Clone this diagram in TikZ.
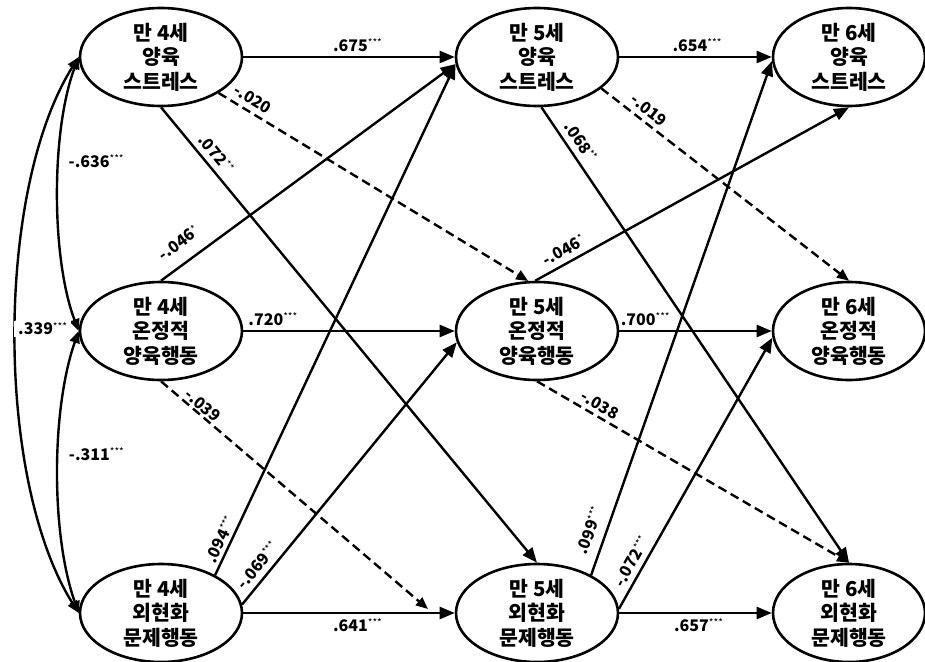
\documentclass[tikz,border=0pt]{standalone}
\usepackage{fontspec}
\setmainfont{Noto Sans CJK KR}
\usetikzlibrary{arrows.meta,shapes.geometric}
\tikzset{
  el/.style={ellipse, draw, line width=2.6pt, minimum width=162pt, minimum height=98pt, inner sep=0pt},
  elc/.style={el, minimum width=152pt},
  txt/.style={align=center, font=\fontsize{20.5}{24.5}\selectfont\bfseries},
  conn/.style={line width=2.4pt, -{Triangle[length=15pt,width=12pt]}},
  dconn/.style={line width=2.4pt, dash pattern=on 9pt off 5pt, -{Triangle[length=12pt,width=10pt]}},
  cov/.style={line width=2.4pt, {Triangle[length=12pt,width=10pt]}-{Triangle[length=12pt,width=10pt]}},
  lab/.style={font=\fontsize{16}{18}\selectfont, inner sep=1.5pt},
}
\newcommand{\cf}[2]{\textbf{#1}\raisebox{4.5pt}{\fontsize{10}{10}\selectfont #2}}
\begin{document}
\begin{tikzpicture}[x=1pt,y=-1pt]
\useasboundingbox (0,0) rectangle (925,661);
% ellipses
\node[el]  (A1) at (161,57)  {};
\node[el]  (A2) at (161,331) {};
\node[el]  (A3) at (161,613) {};
\node[el]  (B1) at (537,57)  {};
\node[el]  (B2) at (537,331) {};
\node[el]  (B3) at (537,613) {};
\node[elc] (C1) at (849,57)  {};
\node[elc] (C2) at (849,331) {};
\node[elc] (C3) at (849,613) {};
\node[txt] (tA1) at (A1) {만 4세\\양육\\스트레스};
\node[txt] (tA2) at (A2) {만 4세\\온정적\\양육행동};
\node[txt] (tA3) at (A3) {만 4세\\외현화\\문제행동};
\node[txt] (tB1) at (B1) {만 5세\\양육\\스트레스};
\node[txt] (tB2) at (B2) {만 5세\\온정적\\양육행동};
\node[txt] (tB3) at (B3) {만 5세\\외현화\\문제행동};
\node[txt] (tC1) at (C1) {만 6세\\양육\\스트레스};
\node[txt] (tC2) at (C2) {만 6세\\온정적\\양육행동};
\node[txt] (tC3) at (C3) {만 6세\\외현화\\문제행동};
\coordinate (d1) at (428,609);
% horizontal paths
\draw[conn] (A1.east) -- node[lab, above=3pt, pos=0.54] {\cf{.675}{***}} (B1.west);
\draw[conn] (B1.east) -- node[lab, above=3pt, pos=0.51] {\cf{.654}{***}} (C1.west);
\draw[conn] (A2.east) -- node[lab, above=3pt, pos=0.14] {\cf{.720}{***}} (B2.west);
\draw[conn] (B2.east) -- node[lab, above=3pt, pos=0.17] {\cf{.700}{***}} (C2.west);
\draw[conn] (A3.east) -- node[lab, below=3pt, pos=0.54] {\cf{.641}{***}} (B3.west);
\draw[conn] (B3.east) -- node[lab, below=3pt, pos=0.52] {\cf{.657}{***}} (C3.west);
% cross paths 4 -> 5
\draw[conn]  (A1.south) -- node[lab, sloped, above=4pt, pos=0.12] {\cf{.072}{**}} (B3.north);
\draw[dconn] (A1.-32) -- node[lab, sloped, above=3.5pt, pos=0.09] {\textbf{-.020}} (B2.100);
\draw[conn]  (A2.north) -- node[lab, sloped, above=11pt, pos=0.1] {\cf{-.046}{*}} (B1.185);
\draw[dconn] (A2.south) -- node[lab, sloped, above=0pt, pos=0.135] {\textbf{-.039}} (d1);
\draw[conn]  (A3.35) -- node[lab, sloped, above=1.5pt, pos=0.061] {\cf{.094}{***}} (B1.185);
\draw[conn]  (A3.6) -- node[lab, sloped, above=4pt, pos=0.119] {\cf{-.069}{***}} (B2.188);
% cross paths 5 -> 6
\draw[conn]  (B1.-85) -- node[lab, sloped, above=4.5pt, pos=0.092] {\cf{.068}{**}} (C3.north);
\draw[dconn] (B1.-26) -- node[lab, sloped, above=3.5pt, pos=0.162] {\textbf{-.019}} (C2.north);
\draw[conn]  (B2.92) -- node[lab, sloped, above=4pt, pos=0.11] {\cf{-.046}{*}} (C1.south);
\draw[dconn] (B2.south) -- node[lab, sloped, above=2.5pt, pos=0.183] {\textbf{-.038}} (C3.north);
\draw[conn]  (B3.35) -- node[lab, sloped, above=7.5pt, pos=0.076] {\cf{.099}{***}} (C1.183);
\draw[conn]  (B3.3) -- node[lab, sloped, above=3.5pt, pos=0.151] {\cf{-.072}{***}} (C2.185);
% covariances
\draw[cov] (A1.west) .. controls (51,130) and (51,258) .. node[lab, right=7pt, pos=0.39] {\cf{-.636}{***}} (A2.west);
\draw[cov] (A2.west) .. controls (51,410) and (51,535) .. node[lab, right=8pt, pos=0.44] {\cf{-.311}{***}} (A3.west);
\draw[cov] (A1.west) .. controls (-5,190) and (-5,480) .. node[lab, anchor=west, fill=white, inner xsep=4pt, xshift=-3pt, pos=0.49] {\cf{.339}{***}} (A3.west);
\end{tikzpicture}
\end{document}
